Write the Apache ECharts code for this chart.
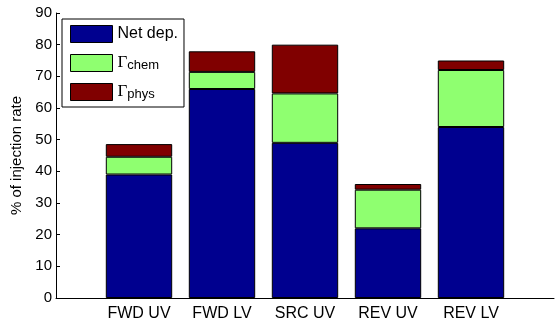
<!DOCTYPE html>
<html>
<head>
<meta charset="utf-8">
<script src="https://cdn.jsdelivr.net/npm/echarts@6/dist/echarts.min.js"></script>
<style>
  html, body { margin: 0; padding: 0; background: #fff; }
  #chart { width: 557px; height: 322px; }
</style>
</head>
<body>
<div id="chart"></div>
<script>
// Case labels (blank slots pad the axis at both ends)
const categories = ['', 'FWD UV', 'FWD LV', 'SRC UV', 'REV UV', 'REV LV', ''];
// Share of injection rate, in percent, stacked per case
const netDep = [null, 39, 66, 49, 22, 54, null];
const gammaChem = [null, 5.6, 5.4, 15.6, 12.2, 18, null];
const gammaPhys = [null, 4.0, 6.5, 15.4, 1.8, 3, null];
const yTicks = { min: 0, max: 90, interval: 10 };

const FONT = 'Liberation Sans, Arial, Helvetica, sans-serif';
const edge = { borderColor: '#000', borderWidth: 1 };

function barSeries(name, data, color) {
  return {
    name: name,
    type: 'bar',
    stack: 'total',
    data: data,
    barWidth: '80%',
    itemStyle: Object.assign({ color: color }, edge),
    emphasis: { disabled: true }
  };
}

const chart = echarts.init(document.getElementById('chart'), null, { renderer: 'canvas' });
chart.setOption({
  animation: false,
  backgroundColor: '#fff',
  grid: { left: 56, top: 13, bottom: 24, width: 508, containLabel: false },
  xAxis: {
    type: 'category',
    data: categories,
    boundaryGap: false,
    axisLine: { lineStyle: { color: '#000', width: 1 } },
    axisTick: { show: false },
    axisLabel: { color: '#000', fontSize: 16, fontFamily: FONT, margin: 8 },
    splitLine: { show: false }
  },
  yAxis: {
    type: 'value',
    min: yTicks.min,
    max: yTicks.max,
    interval: yTicks.interval,
    name: '% of injection rate',
    nameLocation: 'middle',
    nameGap: 32,
    nameTextStyle: { color: '#000', fontSize: 15, fontFamily: FONT },
    axisLine: { show: true, lineStyle: { color: '#000', width: 1 } },
    axisTick: { show: true, inside: true, length: 4, lineStyle: { color: '#000' } },
    axisLabel: { color: '#000', fontSize: 15, fontFamily: FONT, margin: 4 },
    splitLine: { show: false }
  },
  legend: {
    left: 62,
    top: 19,
    orient: 'vertical',
    itemWidth: 42,
    itemHeight: 17,
    itemGap: 8,
    itemTextGap: 3,
    padding: [6, 6, 6, 8],
    borderColor: '#000',
    borderWidth: 1,
    backgroundColor: '#fff',
    icon: 'rect',
    itemStyle: edge,
    selectedMode: false,
    data: ['Net dep.', 'Γchem', 'Γphys'],
    formatter: function (name) {
      if (name === 'Net dep.') return '{n|Net dep.}';
      return '{g|Γ}{s|' + name.slice(1) + '}';
    },
    textStyle: {
      color: '#000',
      fontFamily: FONT,
      fontSize: 16,
      rich: {
        n: { fontSize: 16, fontFamily: FONT, color: '#000' },
        g: { fontSize: 17, fontFamily: 'Liberation Serif, Times New Roman, serif', color: '#000', verticalAlign: 'top', lineHeight: 18 },
        s: { fontSize: 13, fontFamily: FONT, color: '#000', verticalAlign: 'bottom', lineHeight: 18, padding: [8, 0, 0, 0] }
      }
    }
  },
  series: [
    barSeries('Net dep.', netDep, '#00008F'),
    barSeries('Γchem', gammaChem, '#8FFF70'),
    barSeries('Γphys', gammaPhys, '#800000')
  ]
});
</script>
</body>
</html>
